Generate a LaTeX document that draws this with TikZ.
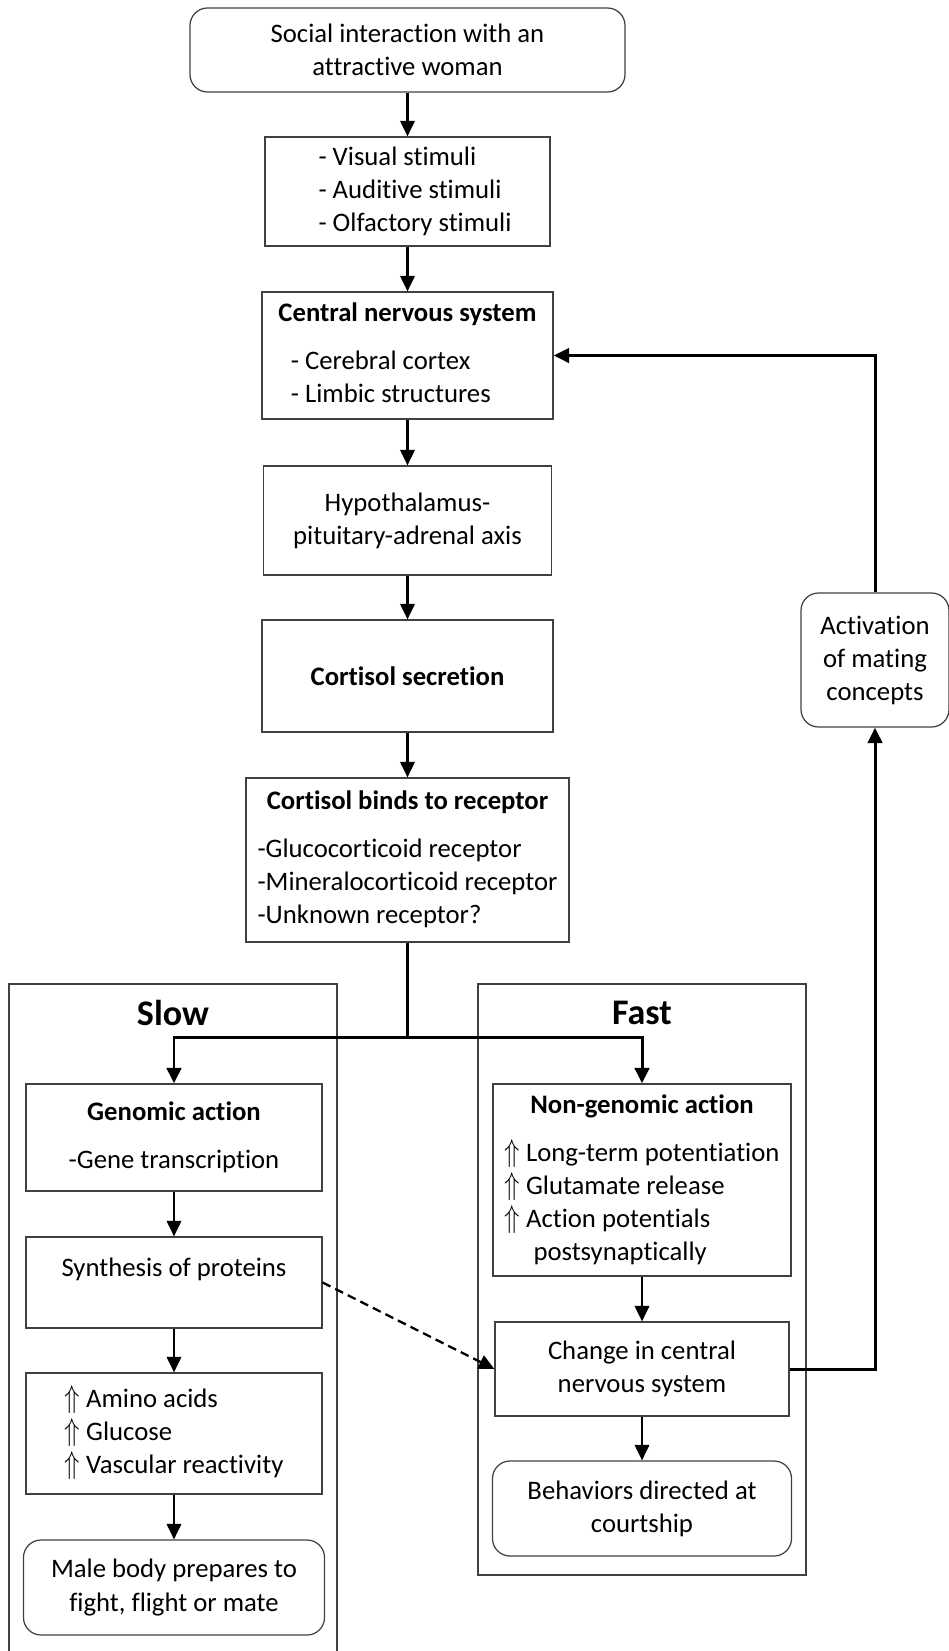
\documentclass[tikz,border=0pt]{standalone}
\usepackage{fontspec}
\setmainfont{Carlito}[Ligatures=NoCommon]
\usepackage{amsmath,amssymb}
\usetikzlibrary{arrows.meta,positioning,calc}

\newcommand{\upar}{\scalebox{1}[1.25]{$\Uparrow$}\ }

\begin{document}
\begin{tikzpicture}[
  >={Triangle[length=0.31cm,width=0.29cm]},
  every node/.style={font=\fontsize{15.2}{18.8}\selectfont},
  stepbox/.style={draw=black!75, line width=0.7pt, align=center, inner sep=2pt},
  endbox/.style={stepbox, rounded corners=0.35cm},
  panel/.style={draw=black!75, line width=0.7pt},
  link/.style={line width=1.15pt, ->},
  boldlink/.style={line width=1.7pt, ->},
  headlbl/.style={font=\fontsize{20.5}{24}\selectfont\bfseries}
]

\useasboundingbox (0,0) rectangle (18.96,-33.02);

% Main column
\node[endbox, minimum width=8.7cm, minimum height=1.68cm] (social) at (8.15,-1.0) {Social interaction with an\\attractive woman};
\node[stepbox, minimum width=5.7cm, minimum height=2.18cm] (stimuli) at (8.15,-3.83) {\hspace{0.3cm}\begin{tabular}{@{}l@{}}- Visual stimuli\\- Auditive stimuli\\- Olfactory stimuli\end{tabular}};
\node[stepbox, minimum width=5.82cm, minimum height=2.54cm] (cns) at (8.15,-7.11) {\begin{tabular}{@{}l@{}}\multicolumn{1}{@{}c@{}}{\bfseries Central nervous system}\\[8.5pt]\hspace{0.25cm}- Cerebral cortex\\\hspace{0.25cm}- Limbic structures\end{tabular}};
\node[stepbox, minimum width=5.76cm, minimum height=2.18cm] (hpa) at (8.15,-10.41) {Hypothalamus-\\pituitary-adrenal axis};
\node[stepbox, minimum width=5.82cm, minimum height=2.24cm] (cortsec) at (8.15,-13.52) {\bfseries Cortisol secretion};
\node[stepbox, minimum width=6.46cm, minimum height=3.28cm] (binds) at (8.15,-17.2) {\begin{tabular}{@{}l@{}}\multicolumn{1}{@{}c@{}}{\bfseries Cortisol binds to receptor}\\[8.5pt]-Glucocorticoid receptor\\-Mineralocorticoid receptor\\-Unknown receptor?\end{tabular}};

% Slow and Fast panels
\draw[panel] (0.18,-33.2) |- (6.74,-19.68) -- (6.74,-33.2);
\draw[panel] (9.56,-19.68) rectangle (16.12,-31.5);
\node[headlbl] (slowlbl) at (3.46,-20.26) {Slow};
\node[headlbl] (fastlbl) at (12.84,-20.26) {Fast};

% Slow branch
\node[stepbox, minimum width=5.92cm, minimum height=2.14cm] (genomic) at (3.48,-22.75) {\textbf{Genomic action}\\[8.5pt]-Gene transcription};
\node[stepbox, minimum width=5.92cm, minimum height=1.82cm, text height=0.4cm, text depth=0.66cm] (synth) at (3.48,-25.65) {Synthesis of proteins};
\node[stepbox, minimum width=5.92cm, minimum height=2.42cm] (amino) at (3.48,-28.67) {\begin{tabular}{@{}l@{}}\upar Amino acids\\\upar Glucose\\\upar Vascular reactivity\end{tabular}};
\node[endbox, minimum width=6.02cm, minimum height=1.9cm] (male) at (3.48,-31.75) {Male body prepares to\\fight, flight or mate};

% Fast branch
\node[stepbox, minimum width=5.96cm, minimum height=3.84cm] (nongen) at (12.84,-23.6) {\begin{tabular}{@{}l@{}}\multicolumn{1}{@{}c@{}}{\bfseries Non-genomic action}\\[8.5pt]\upar Long-term potentiation\\\upar Glutamate release\\\upar Action potentials\\\phantom{\upar}\hspace{0.15cm}postsynaptically\end{tabular}};
\node[stepbox, minimum width=5.88cm, minimum height=1.88cm] (change) at (12.84,-27.38) {Change in central\\nervous system};
\node[endbox, minimum width=5.98cm, minimum height=1.9cm] (behav) at (12.84,-30.17) {Behaviors directed at\\courtship};

% Feedback box
\node[endbox, minimum width=2.96cm, minimum height=2.68cm] (activ) at (17.5,-13.2) {Activation\\of mating\\concepts};

% Straight arrows
\foreach \a/\b in {social/stimuli, stimuli/cns, cns/hpa, hpa/cortsec, cortsec/binds, genomic/synth, synth/amino, amino/male, nongen/change, change/behav}
  \draw[link] (\a) -- (\b);

% Split into slow and fast
\coordinate (split) at (8.15,-20.74);
\draw[line width=1.15pt] (binds) -- (split);
\draw[boldlink] (split) -| (genomic);
\draw[boldlink] (split) -| (nongen);

% Proteins feed the CNS change
\draw[link, line width=1.3pt, dash pattern=on 5pt off 3pt] (synth.east) -- (change.west);

% Feedback loop
\draw[boldlink] (change) -| (activ);
\draw[boldlink] (activ) |- (cns);

\end{tikzpicture}
\end{document}
